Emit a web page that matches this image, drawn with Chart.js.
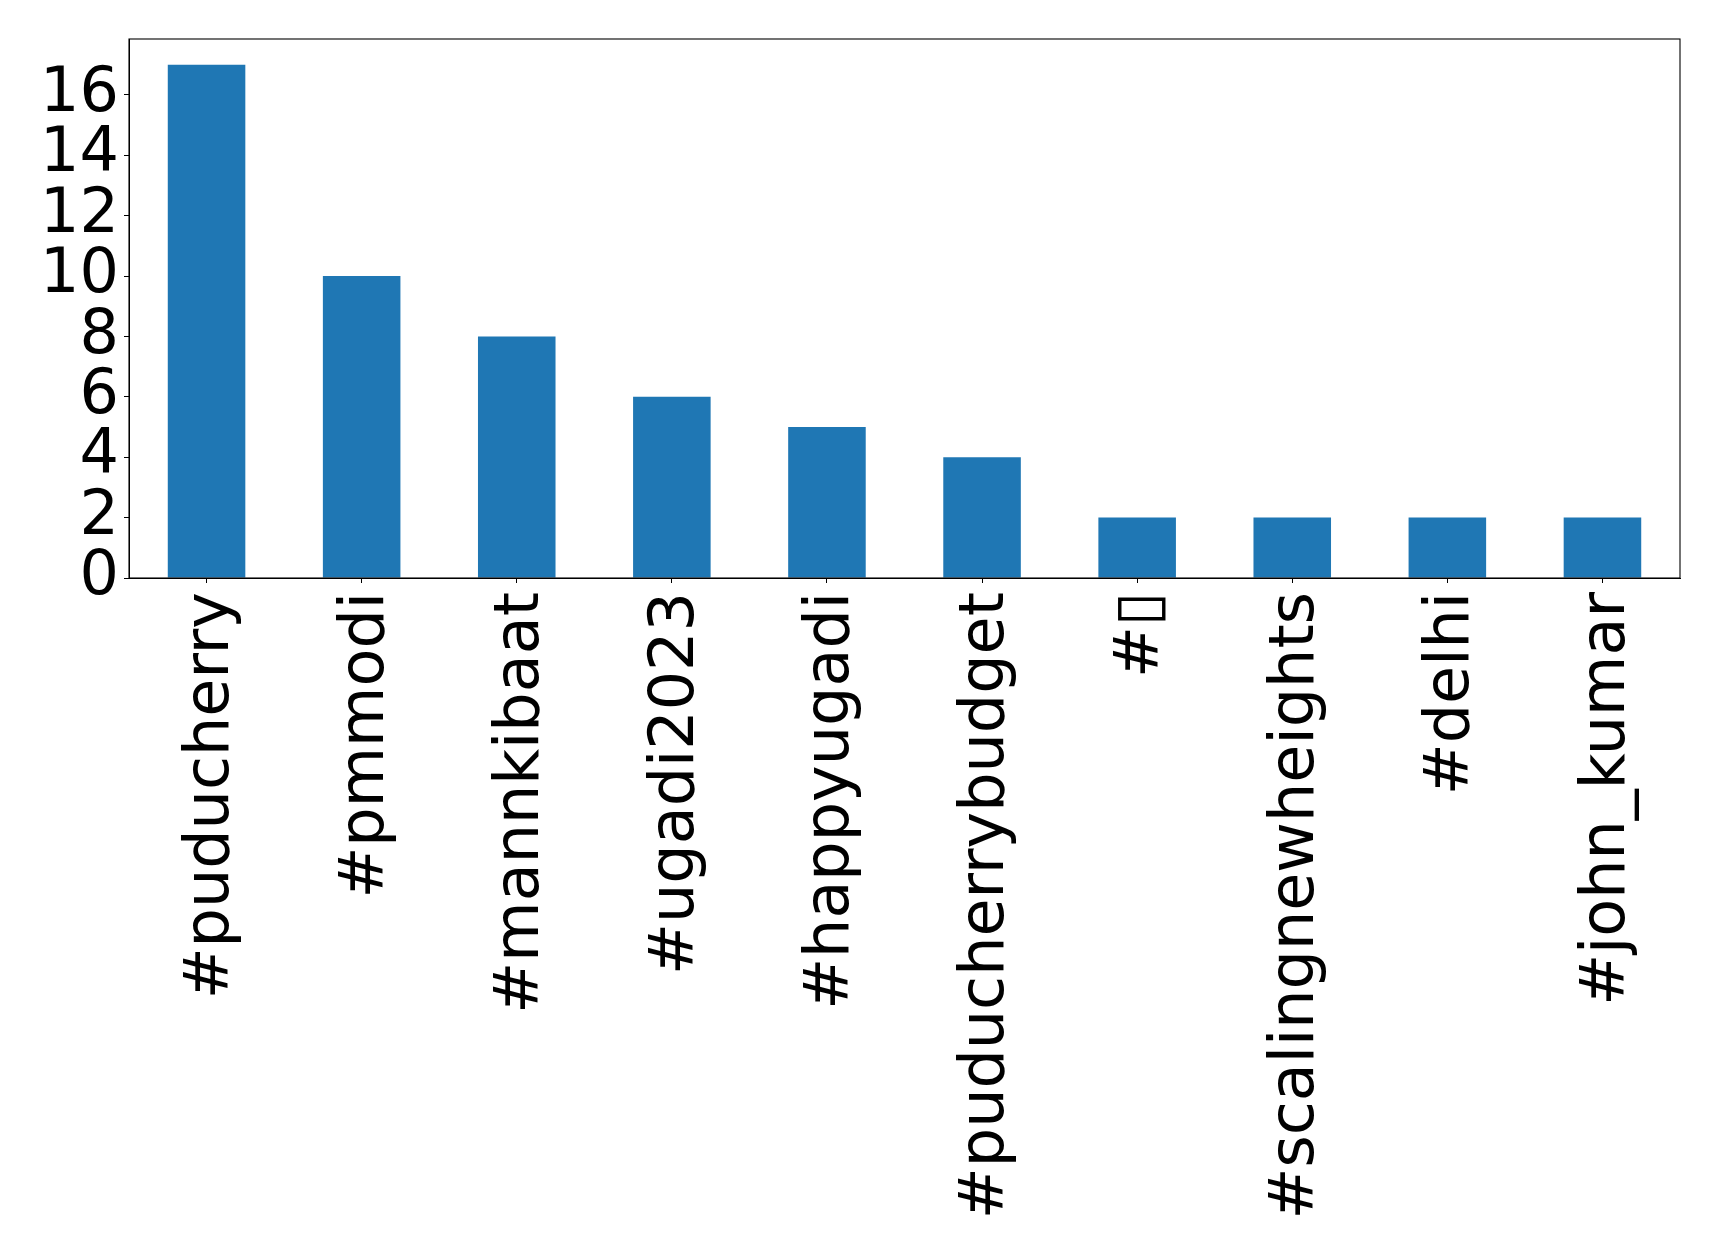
<!DOCTYPE html>
<html>
<head>
<meta charset="utf-8">
<script src="https://cdn.jsdelivr.net/npm/chart.js@4/dist/chart.umd.min.js"></script>
<style>
    body { margin: 0; background: #ffffff; }
    #grafico { display: block; }
</style>
</head>
<body>
<canvas id="grafico" width="1719" height="1260"></canvas>
<script>
// dados
const categorias = ['#puducherry', '#pmmodi', '#mannkibaat', '#ugadi2023', '#happyugadi',
    '#puducherrybudget', '#▯', '#scalingnewheights', '#delhi', '#john_kumar'];
const contagens = [17, 10, 8, 6, 5, 4, 2, 2, 2, 2];
const ticksY = [0, 2, 4, 6, 8, 10, 12, 14, 16];

// moldura em volta da área do gráfico (estilo matplotlib)
const moldura = {
    id: 'moldura',
    afterDraw(chart) {
        const a = chart.chartArea;
        const ctx = chart.ctx;
        ctx.save();
        ctx.strokeStyle = '#000000';
        ctx.lineWidth = 1.1;
        ctx.strokeRect(a.left, a.top, a.right - a.left, a.bottom - a.top);
        ctx.restore();
    }
};

function gerarGraficoBarra() {
    const barra = document.getElementById('grafico');
    new Chart(barra, {
        type: 'bar',
        data: {
            labels: categorias,
            datasets: [{
                data: contagens,
                backgroundColor: '#1f77b4',
                barPercentage: 0.5,
                categoryPercentage: 1.0
            }]
        },
        options: {
            responsive: false,
            animation: false,
            layout: {
                padding: { top: 39, right: 39, left: 0, bottom: 0 }
            },
            plugins: {
                legend: { display: false },
                tooltip: { enabled: false }
            },
            scales: {
                x: {
                    afterFit: (scale) => { scale.height = 682; },
                    grid: {
                        offset: false,
                        drawOnChartArea: false,
                        drawTicks: true,
                        tickLength: 5,
                        tickColor: '#000000'
                    },
                    border: { display: true, color: '#000000', width: 1 },
                    ticks: {
                        autoSkip: false,
                        maxRotation: 90,
                        minRotation: 90,
                        padding: 9,
                        labelOffset: 5,
                        color: '#000000',
                        font: { family: 'DejaVu Sans', size: 62 }
                    }
                },
                y: {
                    min: 0,
                    max: 17.85,
                    afterFit: (scale) => { scale.width = 129; },
                    afterBuildTicks: (scale) => {
                        scale.ticks = ticksY.map(v => ({ value: v }));
                    },
                    grid: {
                        drawOnChartArea: false,
                        drawTicks: true,
                        tickLength: 5,
                        tickColor: '#000000'
                    },
                    border: { display: true, color: '#000000', width: 1 },
                    ticks: {
                        autoSkip: false,
                        padding: 5,
                        color: '#000000',
                        font: { family: 'DejaVu Sans', size: 62, lineHeight: 1.0 }
                    }
                }
            }
        },
        plugins: [moldura]
    });
}

window.addEventListener('load', () => {
    gerarGraficoBarra();
});
</script>
</body>
</html>
